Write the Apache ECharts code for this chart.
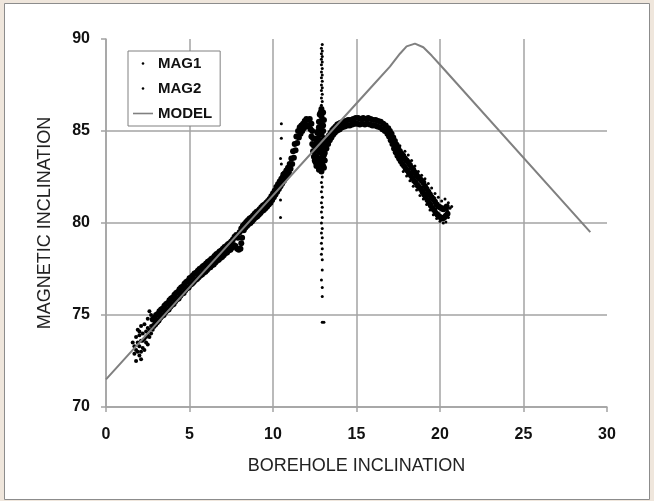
<!DOCTYPE html>
<html>
<head>
<meta charset="utf-8">
<script src="https://cdn.jsdelivr.net/npm/echarts@6/dist/echarts.min.js"></script>
<style>
  html, body { margin: 0; padding: 0; background: #efe6dc; }
  #chart { width: 654px; height: 501px; }
</style>
</head>
<body>
<div id="chart"></div>
<script>
// model curve
var MODEL_X = [0, 16, 17, 17.6, 18, 18.5, 19, 19.5, 20, 29];
var MODEL_Y = [71.5, 87.5, 88.5, 89.2, 89.6, 89.75, 89.55, 89.1, 88.6, 79.5];

// MAG1 - upper trace of the band
var MAG1_BAND = [
  [2.8,74.75],[2.9,74.85],[3.0,75.0],[3.1,75.05],[3.2,75.2],[3.3,75.3],[3.4,75.35],[3.5,75.5],[3.6,75.6],[3.7,75.65],
  [3.8,75.8],[3.9,75.9],[4.0,75.95],[4.1,76.1],[4.2,76.2],[4.3,76.25],[4.4,76.4],[4.5,76.5],[4.6,76.55],[4.7,76.7],
  [4.8,76.8],[4.9,76.85],[5.0,77.0],[5.1,77.05],[5.2,77.15],[5.3,77.25],[5.4,77.3],[5.5,77.4],[5.6,77.5],[5.7,77.55],
  [5.8,77.65],[5.9,77.7],[6.0,77.8],[6.1,77.9],[6.2,77.95],[6.3,78.05],[6.4,78.1],[6.5,78.2],[6.6,78.3],[6.7,78.35],
  [6.8,78.45],[6.9,78.5],[7.0,78.6],[7.1,78.7],[7.2,78.75],[7.3,78.85],[7.4,78.9],[7.5,79.0],[7.6,79.1],[7.7,79.25],
  [7.8,79.35],[7.9,79.2],[8.0,79.5],[8.1,79.7],[8.2,79.85],[8.3,79.95],[8.4,80.05],[8.5,80.15],[8.6,80.25],[8.7,80.3],
  [8.8,80.4],[8.9,80.5],[9.0,80.6],[9.1,80.65],[9.2,80.75],[9.3,80.85],[9.4,80.95],[9.5,81.0],[9.6,81.1],[9.7,81.2],
  [9.8,81.3],[9.9,81.45],[10.0,81.6],[10.1,81.75],[10.2,81.95],[10.3,82.1],[10.4,82.25],[10.5,82.4],[10.6,82.55],[10.7,82.7],
  [10.8,82.85],[10.9,83.0],[11.0,83.2],[11.1,83.5],[11.2,83.9],[11.3,84.3],[11.4,84.7],[11.5,85.0],[11.6,85.2],[11.7,85.3],
  [11.8,85.4],[11.9,85.55],[12.0,85.65],[12.1,85.6],[12.2,85.65],[12.3,85.4],[12.35,85.0],[12.4,84.6],[12.45,84.2],[12.5,83.9],
  [13.15,84.3],[13.25,84.55],[13.35,84.75],[13.45,84.9],[13.55,85.05],[13.65,85.15],[13.75,85.25],[13.85,85.35],[13.95,85.4],[14.05,85.45],
  [14.2,85.5],[14.35,85.55],[14.5,85.6],[14.65,85.6],[14.8,85.65],[14.95,85.7],[15.1,85.7],[15.25,85.65],[15.4,85.7],[15.55,85.65],
  [15.7,85.7],[15.85,85.65],[16.0,85.6],[16.15,85.6],[16.3,85.55],[16.45,85.5],[16.6,85.4],[16.75,85.3],[16.9,85.15],[17.0,85.0],
  [17.1,84.85],[17.2,84.65],[17.3,84.45],[17.4,84.25],[17.5,84.05],[17.6,83.9],[17.7,83.75],[17.8,83.65],[17.9,83.5],[18.0,83.4],
  [18.1,83.3],[18.2,83.15],[18.3,83.0],[18.4,82.9],[18.5,82.75],[18.6,82.6],[18.7,82.5],[18.8,82.4],[18.9,82.3],[19.0,82.2],
  [19.1,82.0],[19.2,81.85],[19.3,81.7],[19.4,81.55],[19.5,81.4],[19.6,81.3],[19.7,81.15],[19.8,81.0],[19.9,80.9],[20.0,80.85],
  [20.1,80.8],[20.2,80.75],[20.3,80.8],[20.4,80.9]
];
var MAG1_START = [
  [1.7,73.3],[1.8,73.8],[1.8,73.1],[1.9,74.2],[1.9,73.5],[2.0,73.9],[2.0,72.8],[2.1,74.4],[2.1,73.6],[2.2,73.2],
  [2.2,74.0],[2.3,73.7],[2.3,74.5],[2.4,74.1],[2.4,73.5],[2.5,74.8],[2.5,73.9],[2.6,75.2],[2.6,74.2],[2.7,74.4]
];
var MAG1_SPIKE = [
  [12.6,83.1],[12.6,83.6],[12.6,84.1],[12.65,84.6],[12.7,85.0],[12.75,85.5],[12.8,85.9],[12.8,83.0],[12.8,83.5],[12.8,84.0],
  [12.85,84.5],[12.9,86.2],[12.9,85.8],[12.9,85.3],[12.9,84.8],[12.95,84.2],[13.0,83.6],[13.0,83.1],[13.0,85.0],[13.05,85.6],
  [13.05,84.5],[13.1,84.0],[12.7,83.3],[12.75,84.3]
];
var MAG1_SCATTER = [
  [10.5,85.4],[10.5,84.6],[10.45,83.5],[10.5,83.2],[10.55,82.7],[10.45,81.25],[10.45,80.3],
  [17.6,84.2],[17.9,83.9],[18.1,83.7],[18.3,83.4],[18.5,83.1],[18.7,82.8],[18.9,82.6],[19.1,82.4],[19.3,82.15],
  [19.5,81.9],[19.7,81.6],[19.9,81.4],[20.1,81.2],[20.3,81.3],[20.5,81.1],[20.6,80.8],[20.7,80.9],[20.45,80.7]
];

// MAG2 - lower trace of the band
var MAG2_BAND = [
  [2.85,74.4],[2.95,74.5],[3.05,74.6],[3.15,74.7],[3.25,74.85],[3.35,74.95],[3.45,75.0],[3.55,75.15],[3.65,75.25],[3.75,75.3],
  [3.85,75.45],[3.95,75.55],[4.05,75.6],[4.15,75.75],[4.25,75.85],[4.35,75.9],[4.45,76.05],[4.55,76.15],[4.65,76.2],[4.75,76.35],
  [4.85,76.45],[4.95,76.5],[5.05,76.65],[5.15,76.7],[5.25,76.8],[5.35,76.9],[5.45,76.95],[5.55,77.05],[5.65,77.15],[5.75,77.2],
  [5.85,77.3],[5.95,77.35],[6.05,77.45],[6.15,77.55],[6.25,77.6],[6.35,77.7],[6.45,77.75],[6.55,77.85],[6.65,77.95],[6.75,78.0],
  [6.85,78.1],[6.95,78.15],[7.05,78.25],[7.15,78.35],[7.25,78.4],[7.35,78.5],[7.45,78.55],[7.55,78.65],[7.65,78.8],[7.75,78.75],
  [7.85,78.6],[7.95,78.55],[8.05,78.6],[8.1,78.9],[8.15,79.2],[8.25,79.6],[8.35,79.75],[8.45,79.85],[8.55,79.95],[8.65,80.0],
  [8.75,80.1],[8.85,80.2],[8.95,80.3],[9.05,80.35],[9.15,80.45],[9.25,80.55],[9.35,80.65],[9.45,80.7],[9.55,80.8],[9.65,80.9],
  [9.75,81.0],[9.85,81.1],[9.95,81.25],[10.05,81.4],[10.15,81.55],[10.25,81.7],[10.35,81.85],[10.45,82.0],[10.55,82.15],[10.65,82.3],
  [10.75,82.45],[10.85,82.6],[10.95,82.75],[11.05,82.95],[11.15,83.2],[11.25,83.55],[11.35,83.95],[11.45,84.35],[11.55,84.65],[11.65,84.85],
  [11.75,85.0],[11.85,85.15],[11.95,85.25],[12.05,85.3],[12.15,85.25],[12.25,85.1],[12.3,84.7],[12.35,84.3],[12.4,83.9],[12.45,83.6],
  [12.5,83.4],[12.55,83.3],
  [13.1,83.8],[13.2,84.05],[13.3,84.3],[13.4,84.5],[13.5,84.65],[13.6,84.8],[13.7,84.9],[13.8,85.0],[13.9,85.05],[14.0,85.1],
  [14.15,85.2],[14.3,85.25],[14.45,85.3],[14.6,85.3],[14.75,85.35],[14.9,85.4],[15.05,85.4],[15.2,85.35],[15.35,85.4],[15.5,85.35],
  [15.65,85.4],[15.8,85.35],[15.95,85.3],[16.1,85.3],[16.25,85.25],[16.4,85.2],[16.55,85.1],[16.7,85.0],[16.85,84.85],[16.95,84.7],
  [17.05,84.5],[17.15,84.3],[17.25,84.05],[17.35,83.85],[17.45,83.65],[17.55,83.5],[17.65,83.35],[17.75,83.2],[17.85,83.1],[17.95,82.95],
  [18.05,82.85],[18.15,82.7],[18.25,82.6],[18.35,82.45],[18.45,82.3],[18.55,82.2],[18.65,82.05],[18.75,81.95],[18.85,81.85],[18.95,81.7],
  [19.05,81.55],[19.15,81.4],[19.25,81.25],[19.35,81.1],[19.45,80.95],[19.55,80.8],[19.65,80.7],[19.75,80.55],[19.85,80.45],[19.95,80.35],
  [20.05,80.3],[20.15,80.25],[20.25,80.3],[20.35,80.4],[20.45,80.5]
];
var MAG2_START = [
  [1.6,73.5],[1.7,72.9],[1.8,72.5],[1.9,73.0],[2.0,73.3],[2.0,74.1],[2.1,73.0],[2.1,72.6],[2.2,73.6],[2.3,73.1],
  [2.4,73.8],[2.5,73.4],[2.5,74.3],[2.6,73.8],[2.7,74.0],[2.7,75.0],[2.8,74.2]
];
var MAG2_SPIKE = [
  [12.65,83.4],[12.7,83.9],[12.7,84.4],[12.75,82.9],[12.8,84.8],[12.85,85.2],[12.85,83.3],[12.85,83.8],[12.9,82.8],[12.95,85.6],
  [12.95,84.0],[12.95,83.3],[13.0,84.4],[13.0,85.3],[13.05,83.7],[13.05,83.0],[13.1,83.4],[13.1,84.6],[12.6,84.4],[12.65,84.9],
  [12.75,85.2],[12.9,84.1],[13.0,86.0],[12.85,86.0]
];
var MAG2_SCATTER = [
  [12.9,86.4],[12.95,86.6],[12.9,86.8],[12.95,87.0],[12.9,87.2],[12.95,87.35],[12.9,87.5],[12.95,87.7],[12.9,87.9],[12.95,88.05],
  [12.9,88.2],[12.95,88.4],[12.9,88.6],[12.95,88.75],[12.9,88.9],[12.95,89.05],[12.9,89.2],[12.95,89.35],[12.9,89.5],[12.95,89.7],
  [12.95,82.5],[12.9,82.2],[12.95,81.95],[12.9,81.7],[12.95,81.4],[12.9,81.1],[12.95,80.85],[12.9,80.6],[12.95,80.3],[12.9,80.0],
  [12.95,79.7],[12.9,79.45],[12.95,79.2],[12.9,78.9],[12.95,78.6],[12.9,78.3],[12.95,78.0],[12.95,77.45],[12.9,76.9],[12.95,76.5],
  [12.95,76.0],[12.95,74.6],[13.05,74.6],
  [20.5,80.3],[20.2,80.0],[20.0,80.1],[19.8,80.25],[19.6,80.45],[19.4,80.7],[19.2,81.0],[19.0,81.3],[18.8,81.5],[18.6,81.8],
  [18.4,82.0],[18.2,82.3],[18.0,82.55],[17.8,82.8],[20.35,80.05]
];

var X_TICKS = { min: 0, max: 30, interval: 5 };
var Y_TICKS = { min: 70, max: 90, interval: 5 };

var chart = echarts.init(document.getElementById('chart'));

function dots(arr, size) {
  return arr.map(function (p) { return { value: p, symbolSize: size }; });
}

var modelData = MODEL_X.map(function (x, i) { return [x, MODEL_Y[i]]; });
var gridColor = '#a3a3a3';
var dotIcon = 'path://M0,0M20,0M20,14M0,14M8.7,7a1.3,1.3 0 1,0 2.6,0a1.3,1.3 0 1,0 -2.6,0z';
var lineIcon = 'path://M0,0M20,0M20,14M0,14M0,6.2L20,6.2L20,7.8L0,7.8z';

var option = {
  backgroundColor: '#efe6dc',
  animation: false,
  graphic: [{
    type: 'rect',
    z: -10,
    silent: true,
    shape: { x: 4.5, y: 3.5, width: 645, height: 496 },
    style: { fill: '#ffffff', stroke: '#8c8c8c', lineWidth: 1 }
  }],
  grid: { left: 106, right: 47, top: 39, bottom: 94 },
  legend: {
    orient: 'vertical',
    left: 128,
    top: 51,
    padding: [5, 8, 5, 5],
    itemGap: 10,
    itemWidth: 20,
    itemHeight: 14,
    backgroundColor: '#ffffff',
    borderColor: '#808080',
    borderWidth: 1,
    borderRadius: 0,
    textStyle: { fontFamily: 'Liberation Sans', fontWeight: 'bold', fontSize: 15, color: '#111' },
    data: [
      { name: 'MAG1', icon: dotIcon },
      { name: 'MAG2', icon: dotIcon },
      { name: 'MODEL', icon: lineIcon }
    ]
  },
  xAxis: {
    type: 'value',
    min: X_TICKS.min, max: X_TICKS.max, interval: X_TICKS.interval,
    name: 'BOREHOLE INCLINATION',
    nameLocation: 'middle',
    nameGap: 50,
    nameTextStyle: { fontFamily: 'Liberation Sans', fontSize: 18, color: '#222' },
    axisLine: { lineStyle: { color: gridColor, width: 1.5 } },
    axisTick: { show: true, length: 5, lineStyle: { color: gridColor, width: 1.5 } },
    axisLabel: { margin: 20, fontFamily: 'Liberation Sans', fontWeight: 'bold', fontSize: 16, color: '#111' },
    splitLine: { show: true, showMaxLine: false, lineStyle: { color: gridColor, width: 1.5 } }
  },
  yAxis: {
    type: 'value',
    min: Y_TICKS.min, max: Y_TICKS.max, interval: Y_TICKS.interval,
    name: 'MAGNETIC INCLINATION',
    nameLocation: 'middle',
    nameGap: 52,
    nameTextStyle: { fontFamily: 'Liberation Sans', fontSize: 18, color: '#222' },
    axisLine: { show: true, lineStyle: { color: gridColor, width: 1.5 } },
    axisTick: { show: true, length: 5, lineStyle: { color: gridColor, width: 1.5 } },
    axisLabel: { margin: 16, fontFamily: 'Liberation Sans', fontWeight: 'bold', fontSize: 16, color: '#111' },
    splitLine: { show: true, showMaxLine: false, lineStyle: { color: gridColor, width: 1.5 } }
  },
  series: [
    {
      name: 'MODEL',
      type: 'line',
      data: modelData,
      symbol: 'none',
      smooth: false,
      color: '#808080',
      lineStyle: { color: '#808080', width: 2 },
      z: 3
    },
    {
      name: 'MAG1',
      type: 'scatter',
      symbol: 'circle',
      color: '#000',
      itemStyle: { color: '#000', opacity: 1 },
      data: dots(MAG1_BAND, 6).concat(dots(MAG1_START, 4), dots(MAG1_SPIKE, 6), dots(MAG1_SCATTER, 3)),
      z: 2
    },
    {
      name: 'MAG2',
      type: 'scatter',
      symbol: 'circle',
      color: '#000',
      itemStyle: { color: '#000', opacity: 1 },
      data: dots(MAG2_BAND, 6).concat(dots(MAG2_START, 4), dots(MAG2_SPIKE, 6), dots(MAG2_SCATTER, 3)),
      z: 2
    }
  ]
};

chart.setOption(option);
</script>
</body>
</html>
